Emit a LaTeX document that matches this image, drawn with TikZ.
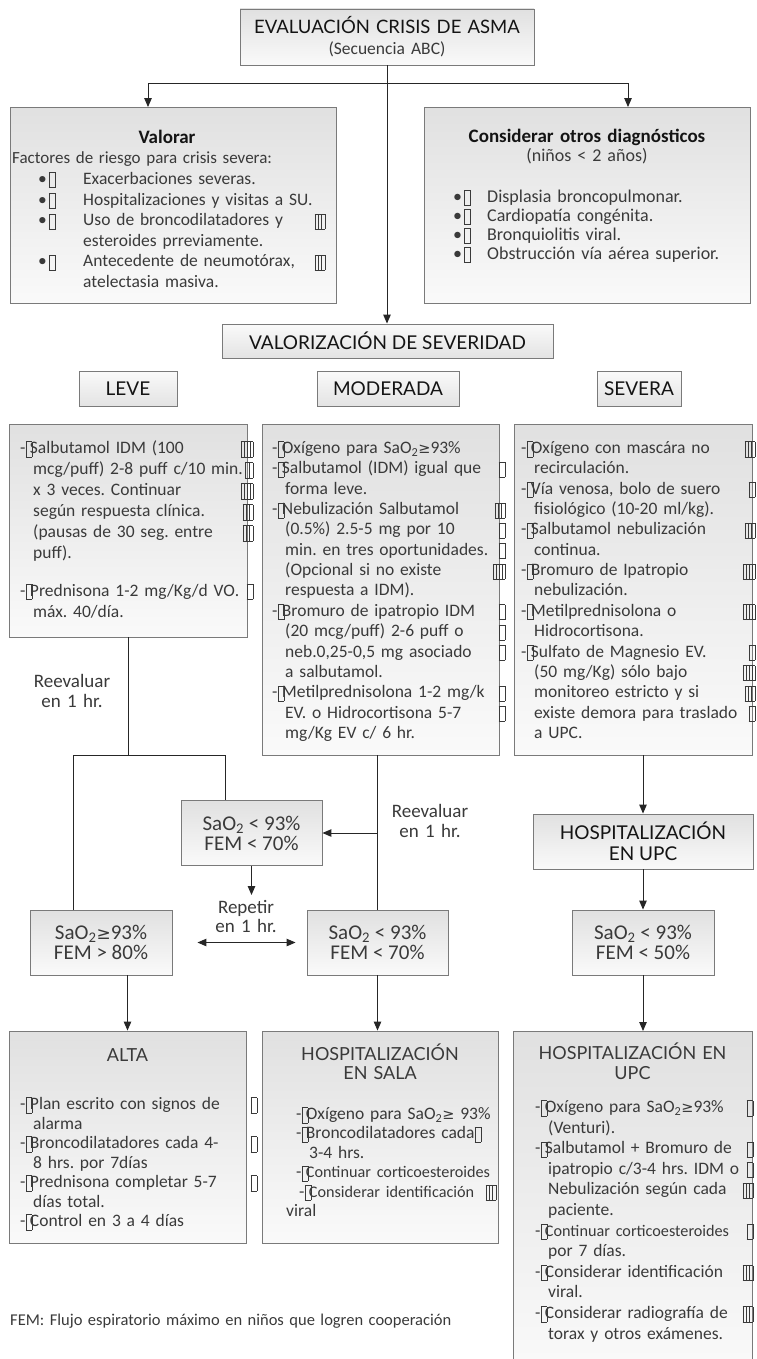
\documentclass[tikz,border=0pt]{standalone}
\usepackage{fontspec}
\setmainfont{Carlito}
\newfontfamily\capsfont{Lato}
\newfontfamily\symf{DejaVu Sans}
\usetikzlibrary{arrows.meta}
\definecolor{txt}{HTML}{3A3A3A}
\definecolor{ttl}{HTML}{141414}
\definecolor{brd}{HTML}{7A7A7A}
\definecolor{lnc}{HTML}{262626}
\frenchspacing
\newlength\tfw
\newcommand\tfbox[1]{\raisebox{-3pt}{\fboxsep=0pt\fboxrule=0.55pt\fbox{\rule{0pt}{14.5pt}#1}}}
\newcommand\tfa{\tfbox{\kern5.5pt}}
\newcommand\tfb{\tfbox{\kern3.2pt\vrule width0.55pt\kern3.2pt}}
\newcommand\tfc{\tfbox{\kern3pt\vrule width0.55pt\kern2.5pt\vrule width0.55pt\kern3pt}}
\newcommand\tfd{\tfbox{\kern2.6pt\vrule width0.55pt\kern2.2pt\vrule width0.55pt\kern2.2pt\vrule width0.55pt\kern2.6pt}}
\newcommand\dd{-\kern0.3pt\tfa\kern-2.5pt}
\newcommand\cont{\hspace*{13pt}}
\newcommand\Lr[2]{\leavevmode\hbox to\tfw{#1\hfill#2}}
\newcommand\bul[1]{\makebox[#1][l]{\textbullet\kern2pt\tfa}}
\newcommand\sub{\textsubscript{2}}
\newcommand\gq{{\symf\fontsize{14.5}{14.5}\selectfont ≥}}
\newcommand\smallln[1]{{\fontsize{16.2}{19}\selectfont #1}}
\begin{document}
\frenchspacing
\begin{tikzpicture}[x=1pt,y=-1pt,
  gbox/.style={draw=brd, line width=0.9pt, top color=gray!24, bottom color=gray!4, inner sep=0pt},
  lbox/.style={draw=brd, line width=0.9pt, top color=gray!4, bottom color=gray!22, inner sep=0pt},
  lbl/.style={font=\capsfont\fontsize{19}{21}\selectfont, text=ttl, align=center},
  tx/.style={inner sep=0pt, anchor=base west, align=left, text=txt, text width=290pt},
  ctr/.style={inner sep=0pt, anchor=base, align=center, text=txt},
  sbox/.style={gbox, font=\fontsize{21}{20}\selectfont, text=txt, align=center, minimum width=141pt, minimum height=65pt},
  lnk/.style={draw=lnc, line width=1pt},
  arr/.style={lnk, -{Triangle[length=9pt,width=7.5pt]}},
  arrr/.style={lnk, {Triangle[length=9pt,width=7.5pt]}-{Triangle[length=9pt,width=7.5pt]}}]
\path[use as bounding box] (0,0) rectangle (756,1359);
\clip (0,0) rectangle (756,1359);
\fill[white] (0,0) rectangle (756,1359);

% top
\node[gbox, lbl, font=\capsfont\fontsize{18.5}{21}\selectfont, text width=290pt, minimum width=294pt, minimum height=56pt] (top) at (387,37)
  {EVALUACIÓN CRISIS DE ASMA\\{\normalfont\fontsize{17.5}{21}\selectfont\color{txt}(Secuencia ABC)}};
\coordinate (j1) at ([yshift=-18pt]top.south);

% Valorar
\node[gbox, minimum width=326pt, minimum height=196pt] (valorar) at (173,205.5) {};
\node[ctr, text width=320pt, text=ttl, font=\fontsize{19}{20}\selectfont\bfseries] (valT) at (167,143.5) {Valorar};
\node[tx, font=\fontsize{17}{20}\selectfont] (valF) at (12,163.5) {Factores de riesgo para crisis severa:};
\node[tx, font=\fontsize{17.5}{20.6}\selectfont] (valL) at (38,184.5) {\setlength\tfw{287pt}%
\bul{45pt}Exacerbaciones severas.\\
\bul{45pt}Hospitalizaciones y visitas a SU.\\
\Lr{\bul{45pt}Uso de broncodilatadores y}{\tfc}\\
\hspace*{45pt}esteroides prreviamente.\\
\Lr{\bul{45pt}Antecedente de neumotórax,}{\tfc}\\
\hspace*{45pt}atelectasia masiva.};

% Considerar
\node[gbox, minimum width=326pt, minimum height=196pt] (consid) at (587,205.5) {};
\node[ctr, text width=320pt, text=ttl, font=\fontsize{19}{20}\selectfont\bfseries] (conT) at (587,142.5) {Considerar otros diagnósticos};
\node[ctr, text width=320pt, font=\fontsize{18}{20}\selectfont] (conS) at (587,161.5) {(niños < 2 años)};
\node[tx, font=\fontsize{18}{19}\selectfont] (conL) at (453,202) {%
\bul{34pt}Displasia broncopulmonar.\\
\bul{34pt}Cardiopatía congénita.\\
\bul{34pt}Bronquiolitis viral.\\
\bul{34pt}Obstrucción vía aérea superior.};

\draw[arr] (j1) -| ([xshift=-25pt]valorar.north);
\draw[arr] (j1) -| ([xshift=41pt]consid.north);

% severity
\node[lbox, lbl, minimum width=331pt, minimum height=34pt] (valoriz) at (387.5,341) {VALORIZACIÓN DE SEVERIDAD};
\draw[arr] (top.south) -- (top.south |- valoriz.north);
\node[lbox, lbl, minimum width=98pt, minimum height=35pt] (leve) at (128,388.5) {LEVE};
\node[lbox, lbl, minimum width=142pt, minimum height=35pt] (mod) at (388,388.5) {MODERADA};
\node[lbox, lbl, minimum width=84pt, minimum height=35pt] (sev) at (639,388.5) {SEVERA};

% content boxes
\node[gbox, minimum width=238pt, minimum height=213pt] (leveB) at (128,530.5) {};
\node[gbox, minimum width=237pt, minimum height=331pt] (modB) at (380.5,589.5) {};
\node[gbox, minimum width=238pt, minimum height=331pt] (sevB) at (633,589.5) {};

\node[tx, font=\fontsize{17.5}{21}\selectfont] (leveT) at (20,453.5) {\setlength\tfw{233pt}%
\Lr{\dd Salbutamol IDM (100}{\tfd}\\
\Lr{\cont mcg/puff) 2-8 puff c/10 min.}{\tfb}\\
\Lr{\cont x 3 veces. Continuar}{\tfd}\\
\Lr{\cont según respuesta clínica.}{\tfc}\\
\Lr{\cont (pausas de 30 seg. entre}{\tfc}\\
\cont puff).\\[16.5pt]
\Lr{\dd Prednisona 1-2 mg/Kg/d VO.}{\tfa}\\
\cont máx. 40/día.};

\node[tx, font=\fontsize{17.5}{20.35}\selectfont] (modT) at (272,453.5) {\setlength\tfw{233pt}%
\dd Oxígeno para SaO\sub\gq93\%\\
\Lr{\dd Salbutamol (IDM) igual que}{\tfa}\\
\cont forma leve.\\
\Lr{\dd Nebulización Salbutamol}{\tfc}\\
\Lr{\cont (0.5\%) 2.5-5 mg por 10}{\tfa}\\
\Lr{\cont min. en tres oportunidades.}{\tfa}\\
\Lr{\cont (Opcional si no existe}{\tfd}\\
\cont respuesta a IDM).\\
\Lr{\dd Bromuro de ipatropio IDM}{\tfa}\\
\Lr{\cont (20 mcg/puff) 2-6 puff o}{\tfa}\\
\Lr{\cont neb.0,25-0,5 mg asociado}{\tfa}\\
\cont a salbutamol.\\
\Lr{\dd Metilprednisolona 1-2 mg/k}{\tfa}\\
\Lr{\cont EV. o Hidrocortisona 5-7}{\tfa}\\
\cont mg/Kg EV c/ 6 hr.};

\node[tx, font=\fontsize{17.5}{20.35}\selectfont] (sevT) at (521,453.5) {\setlength\tfw{234pt}%
\Lr{\dd Oxígeno con mascára no}{\tfc}\\
\cont recirculación.\\
\Lr{\dd Vía venosa, bolo de suero}{\tfa}\\
\cont fisiológico (10-20 ml/kg).\\
\Lr{\dd Salbutamol nebulización}{\tfc}\\
\cont continua.\\
\Lr{\dd Bromuro de Ipatropio}{\tfd}\\
\cont nebulización.\\
\Lr{\dd Metilprednisolona o}{\tfd}\\
\cont Hidrocortisona.\\
\Lr{\dd Sulfato de Magnesio EV.}{\tfa}\\
\Lr{\cont (50 mg/Kg) sólo bajo}{\tfd}\\
\Lr{\cont monitoreo estricto y si}{\tfc}\\
\Lr{\cont existe demora para traslado}{\tfa}\\
\cont a UPC.};

% middle
\coordinate (j2) at ([yshift=-118pt]leveB.south);
\node[ctr, text width=90pt, font=\fontsize{19}{20}\selectfont] (reev1) at (72,687.5) {Reevaluar\\en 1 hr.};
\node[sbox] (mid) at (251.5,833) {SaO\sub{} < 93\%\\FEM < 70\%};
\node[sbox, minimum width=142pt] (sao2ok) at (101,942.5) {SaO\sub{\symf\fontsize{17}{17}\selectfont ≥}93\%\\FEM > 80\%};
\node[sbox] (sao2mod) at (377.5,942.5) {SaO\sub{} < 93\%\\FEM < 70\%};
\node[gbox, lbl, minimum width=220pt, minimum height=55pt] (hupc) at (643,841.5) {HOSPITALIZACIÓN\\EN UPC};
\node[sbox, minimum width=142pt] (sao2upc) at (643,942.5) {SaO\sub{} < 93\%\\FEM < 50\%};
\node[ctr, text width=90pt, font=\fontsize{19}{20}\selectfont] (reev2) at (430,817.5) {Reevaluar\\en 1 hr.};
\node[ctr, text width=90pt, font=\fontsize{19}{19}\selectfont] (repl) at (246,913.5) {Repetir\\en 1 hr.};
\coordinate (rep) at (251.5,895);

\draw[lnk] (leveB.south) -- (j2);
\draw[lnk] ([xshift=-28pt]sao2ok.north) |- (j2) -| ([xshift=-26.5pt]mid.north);
\draw[lnk] (sao2mod.north |- modB.south) -- (sao2mod.north);
\draw[arr] (sao2mod.north |- mid.east) -- (mid.east);
\draw[arr] (mid.south) -- (rep);
\draw[arrr] ([xshift=25pt]sao2ok.east) -- ([xshift=-11pt]sao2mod.west);
\draw[arr] (sevB.south -| hupc.north) -- (hupc.north);
\draw[arr] (hupc.south) -- (sao2upc.north);

% bottom
\node[gbox, minimum width=237pt, minimum height=212pt] (alta) at (127.5,1137) {};
\node[gbox, minimum width=236pt, minimum height=212pt] (sala) at (380,1137) {};
\node[gbox, minimum width=239pt, minimum height=340pt, anchor=north] (upcB) at (632.5,1031) {};

\node[ctr, font=\capsfont\fontsize{18}{20}\selectfont] (altaH) at (127.5,1061) {ALTA};
\node[tx, font=\fontsize{17.5}{19.5}\selectfont] (altaT) at (20,1109.5) {\setlength\tfw{237pt}%
\Lr{\dd Plan escrito con signos de}{\tfa}\\
\cont alarma\\
\Lr{\dd Broncodilatadores cada 4-}{\tfa}\\
\cont 8 hrs. por 7días\\
\Lr{\dd Prednisona completar 5-7}{\tfa}\\
\cont días total.\\
\dd Control en 3 a 4 días};

\node[ctr, text width=230pt, font=\capsfont\fontsize{18}{19}\selectfont] (salaH) at (380,1060.5) {HOSPITALIZACIÓN\\EN SALA};
\node[tx, font=\fontsize{17.5}{19.4}\selectfont] (salaT) at (296,1119.5) {\setlength\tfw{200pt}%
\dd Oxígeno para SaO\sub\gq{} 93\%\\
\dd Broncodilatadores cada\tfa\\
\cont 3-4 hrs.\\
\dd \smallln{Continuar corticoesteroides}\\
\Lr{\hspace*{3pt}\dd \smallln{Considerar identificación}}{\tfc}\\
\hspace*{-10pt}viral};

\node[ctr, text width=236pt, font=\capsfont\fontsize{18}{20}\selectfont] (upcH) at (632.5,1059.5) {HOSPITALIZACIÓN EN\\UPC};
\node[tx, font=\fontsize{17.5}{20.6}\selectfont] (upcT) at (535,1112.5) {\setlength\tfw{218pt}%
\Lr{\dd Oxígeno para SaO\sub\gq93\%}{\tfa}\\
\cont (Venturi).\\
\Lr{\dd Salbutamol + Bromuro de}{\tfa}\\
\Lr{\cont ipatropio c/3-4 hrs. IDM o}{\tfa}\\
\Lr{\cont Nebulización según cada}{\tfc}\\
\cont paciente.\\
\Lr{\dd \smallln{Continuar corticoesteroides}}{\tfa}\\
\cont por 7 días.\\
\Lr{\dd Considerar identificación}{\tfc}\\
\cont viral.\\
\Lr{\dd Considerar radiografía de}{\tfc}\\
\cont torax y otros exámenes.};

\draw[arr] (alta.north |- sao2ok.south) -- (alta.north);
\draw[arr] (sao2mod.south) -- (sao2mod.south |- sala.north);
\draw[arr] (sao2upc.south) -- (sao2upc.south |- upcB.north);

\node[tx, text width=600pt, font=\fontsize{16.5}{18}\selectfont] (fem) at (10,1325) {FEM: Flujo espiratorio máximo en niños que logren cooperación};
\end{tikzpicture}
\end{document}
